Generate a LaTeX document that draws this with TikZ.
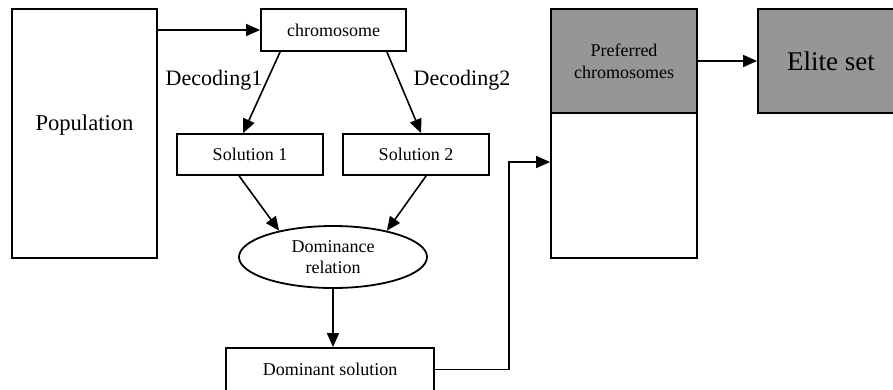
\documentclass[tikz,border=0pt]{standalone}
\usepackage{fontspec}
\setmainfont{Liberation Serif}
\usetikzlibrary{arrows.meta,calc,shapes.geometric}
\definecolor{boxgray}{RGB}{150,150,150}
\begin{document}
\begin{tikzpicture}[x=1pt,y=-1pt,
  box/.style={draw, line width=1.8pt, rectangle, inner sep=0pt, align=center,
              font=\fontsize{18}{21.5}\selectfont},
  graybox/.style={box, fill=boxgray},
  conn/.style={line width=1.6pt, -{Triangle[length=14pt,width=12pt]}},
  declbl/.style={font=\fontsize{22}{26}\selectfont, inner sep=0pt}
]
\useasboundingbox (0,0) rectangle (893,389);
\clip (0,0) rectangle (893,389);

% nodes
\node[box, minimum width=145, minimum height=249, font=\fontsize{22.6}{26}\selectfont]
  (pop) at (84.5,133.5) {\raisebox{3.5pt}[0pt][0pt]{Population}};
\node[box, minimum width=145, minimum height=42] (ch) at (333.5,30) {chromosome};
\node[box, minimum width=146, minimum height=41] (s1) at (250,154.5) {Solution 1};
\node[box, minimum width=146, minimum height=41] (s2) at (416,154.5) {Solution 2};
\node[box, ellipse, minimum width=188, minimum height=62] (ell) at (333,257) {Dominance\\relation};
\node[box, minimum width=208, minimum height=43] (dom) at (330,369.5) {Dominant solution};
\node[graybox, minimum width=146, minimum height=104] (pref) at (624,61) {Preferred\\chromosomes};
\node[box, minimum width=146, minimum height=145] (low) at (624,185.5) {};
\node[graybox, minimum width=146, minimum height=104, font=\fontsize{27}{30}\selectfont]
  (elite) at (831,61) {Elite set};

% labels
\node[declbl] (d1) at (214,80) {Decoding1};
\node[declbl] (d2) at (462,80) {Decoding2};

% connectors
\draw[conn] (pop.east |- ch.west) -- (ch.west);
\draw[conn] ($(ch.south west)+(20,0)$) -- ($(s1.north west)+(67,0)$);
\draw[conn] ($(ch.south east)+(-20,0)$) -- ($(s2.north west)+(79,0)$);
\draw[conn] ($(s1.south west)+(63,0)$) -- (ell.154);
\draw[conn] ($(s2.south west)+(84,0)$) -- (ell.26);
\draw[conn] (ell.south) -- (ell.south |- dom.north);
\coordinate (bend) at (509,162);
\draw[conn] (dom.east) -| (bend) -- (bend -| low.west);
\draw[conn] (pref.east) -- (elite.west);
\end{tikzpicture}
\end{document}
